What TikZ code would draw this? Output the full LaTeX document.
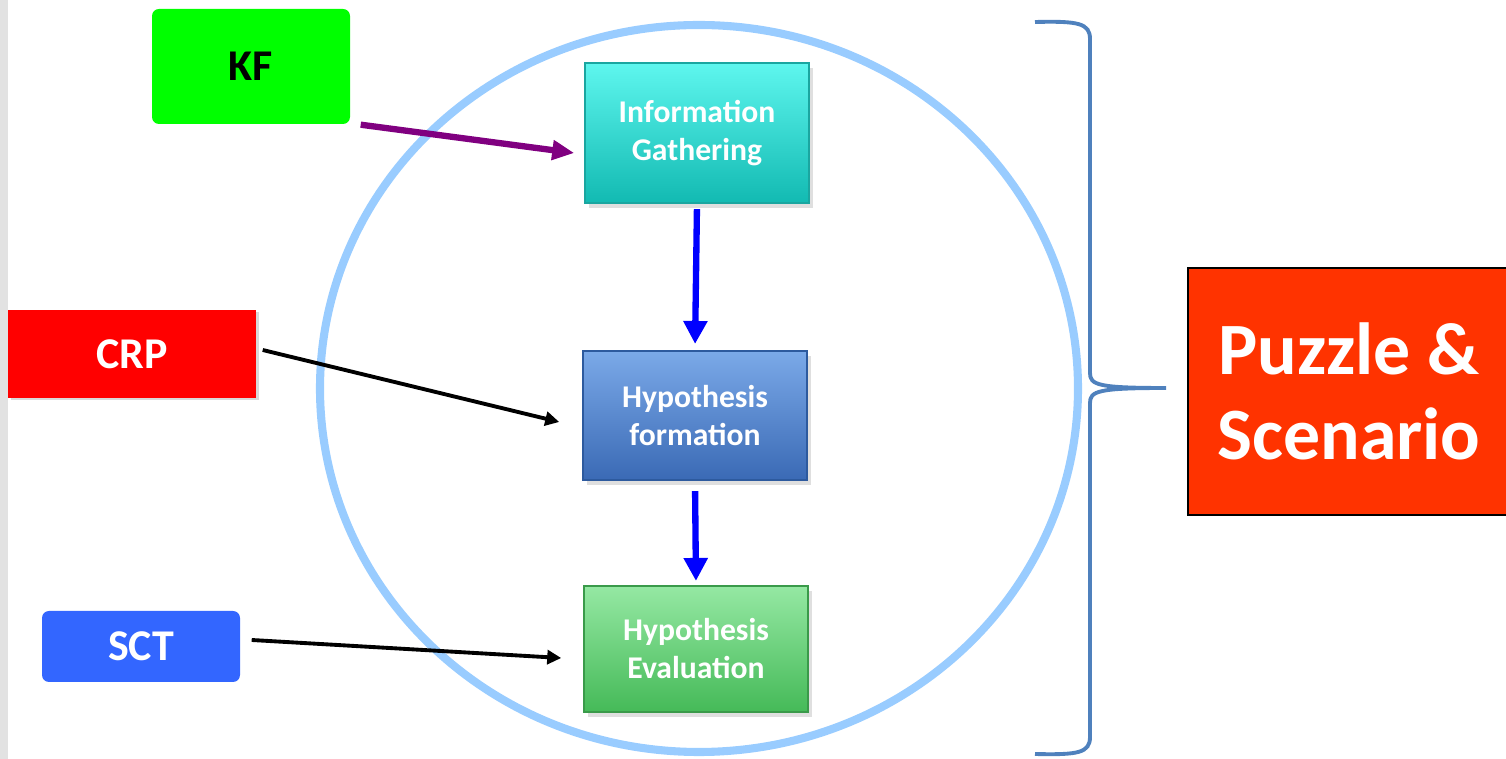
\documentclass[tikz,border=0pt]{standalone}
\usepackage{fontspec}
\setmainfont{Carlito}
\usetikzlibrary{arrows.meta,shadows}

\definecolor{kfgreen}{HTML}{00FF00}
\definecolor{crpred}{HTML}{FF0000}
\definecolor{sctblue}{HTML}{3366FF}
\definecolor{puzzlered}{HTML}{FF3300}
\definecolor{ringblue}{HTML}{99CCFF}
\definecolor{braceblue}{HTML}{4F81BD}
\definecolor{edgegrey}{HTML}{E2E2E2}
\definecolor{kfpurple}{HTML}{800080}
\definecolor{infotop}{HTML}{5EF6EE}
\definecolor{infobot}{HTML}{12BAB2}
\definecolor{infoline}{HTML}{1AA6A0}
\definecolor{formtop}{HTML}{7BA9E8}
\definecolor{formbot}{HTML}{3A6AB5}
\definecolor{formline}{HTML}{2D5A9E}
\definecolor{evaltop}{HTML}{95E8A3}
\definecolor{evalbot}{HTML}{45BA58}
\definecolor{evalline}{HTML}{3A9A4A}

\begin{document}
\begin{tikzpicture}[>={Triangle[length=2.3mm,width=2.3mm]},
    flowbox/.style={rectangle, line width=0.6pt, minimum width=2.18cm, text width=2cm, align=center,
      text=white, font=\fontsize{9}{10.8}\selectfont\bfseries,
      drop shadow={shadow xshift=0.4mm, shadow yshift=-0.5mm, opacity=0.25}},
    tagbox/.style={rectangle, rounded corners=0.7mm, font=\fontsize{12.5}{15}\selectfont\bfseries},
    feed/.style={->, black, line width=1.1pt, >={Triangle[length=1.4mm,width=1.4mm]}}]

  \useasboundingbox (0,0) rectangle (15.06,7.59);
  \fill[edgegrey] (0,0) rectangle (0.08,7.59);

  % Ring and brace
  \draw[ringblue, line width=2.3pt] (6.99,3.705) ellipse [x radius=3.79, y radius=3.635];
  \draw[braceblue, line width=1.1pt]
    (10.35,7.37) .. controls (10.78,7.38) and (10.90,7.36) .. (10.90,7.20)
    -- (10.90,3.86) .. controls (10.90,3.74) and (10.98,3.71) .. (11.66,3.71)
    (10.35,0.05) .. controls (10.78,0.04) and (10.90,0.06) .. (10.90,0.22)
    -- (10.90,3.56) .. controls (10.90,3.68) and (10.98,3.71) .. (11.66,3.71);

  % Nodes
  \node[tagbox, fill=kfgreen, minimum width=1.98cm, minimum height=1.15cm] (kf) at (2.51,6.925) {KF};
  \node[tagbox, rounded corners=0pt, fill=crpred, text=white, minimum width=2.48cm, minimum height=0.88cm,
    drop shadow={shadow xshift=0.3mm, shadow yshift=-0.2mm, opacity=0.3}] (crp) at (1.32,4.05) {CRP};
  \node[tagbox, fill=sctblue, text=white, minimum width=1.98cm, minimum height=0.71cm] (sct) at (1.41,1.125) {SCT};

  \node[flowbox, draw=infoline, top color=infotop, bottom color=infobot, minimum height=1.40cm] (info) at (6.97,6.26) {Information\\Gathering};
  \node[flowbox, draw=formline, top color=formtop, bottom color=formbot, minimum height=1.29cm] (form) at (6.95,3.435) {Hypothesis\\formation};
  \node[flowbox, draw=evalline, top color=evaltop, bottom color=evalbot, minimum width=2.16cm, minimum height=1.26cm] (eval) at (6.96,1.10) {Hypothesis\\Evaluation};

  \node[draw=black, line width=0.6pt, fill=puzzlered, text=white, align=center, minimum width=3.22cm,
    minimum height=2.47cm, font=\fontsize{21}{24}\selectfont\bfseries] (puzzle) at (13.49,3.675) {Puzzle \&\\Scenario};

  % Connectors
  \draw[->, kfpurple, line width=1.8pt, >={Triangle[length=2.2mm,width=1.9mm]}] ([xshift=1mm]kf.south east) -- ([xshift=-1mm,yshift=-2mm]info.west);
  \draw[feed] ([xshift=0.6mm,yshift=0.4mm]crp.east) -- ([xshift=-2.3mm,yshift=-0.65mm]form.west);
  \draw[feed] ([xshift=1.1mm,yshift=0.65mm]sct.east) -- ([xshift=-2.2mm,yshift=-0.9mm]eval.west);
  \draw[->, blue, line width=1.8pt, shorten <=0.5mm, shorten >=0.6mm] (info.south) -- (form.north);
  \draw[->, blue, line width=1.8pt, shorten <=1mm, shorten >=0.4mm] (form.south) -- (eval.north);
\end{tikzpicture}
\end{document}
